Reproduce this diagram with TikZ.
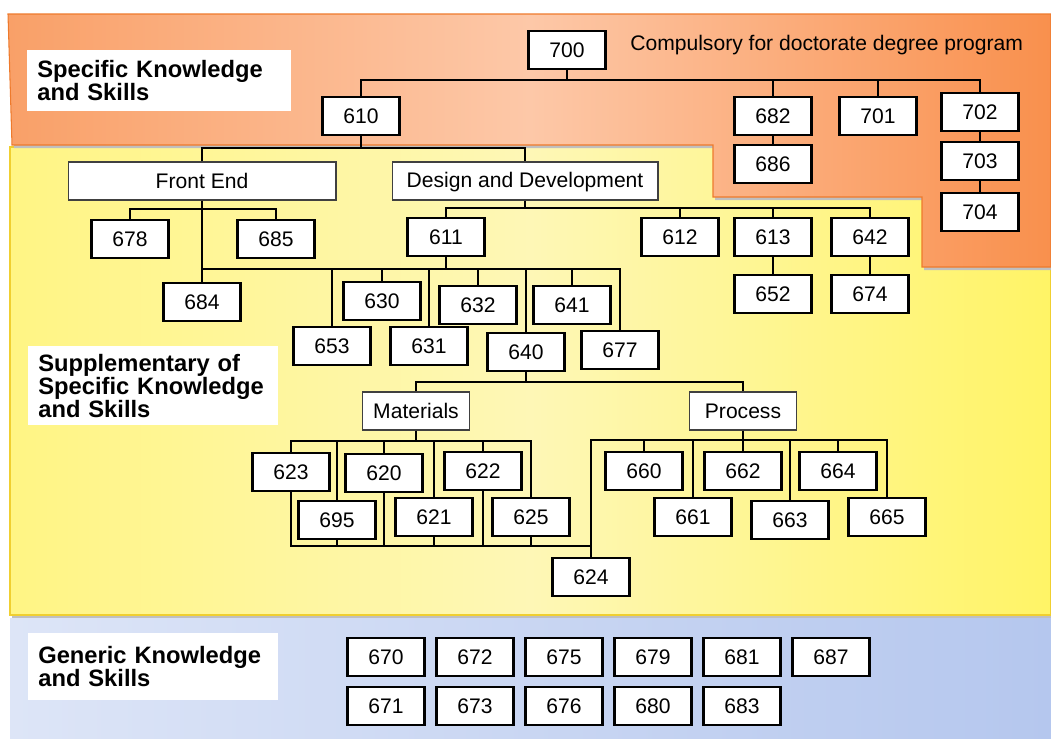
\documentclass[tikz,border=0pt]{standalone}
\usepackage{fontspec}
\setmainfont{Liberation Sans}
\usepackage{tikz}
\usetikzlibrary{positioning,calc}
\definecolor{orL}{HTML}{F9A068}
\definecolor{orM}{HTML}{FDC8A8}
\definecolor{orR}{HTML}{F9904D}
\definecolor{orB}{HTML}{EE7A2C}
\definecolor{yeL}{HTML}{FFF584}
\definecolor{yeM}{HTML}{FEF7B6}
\definecolor{yeR}{HTML}{FFF466}
\definecolor{yeB}{HTML}{F0CF30}
\definecolor{blL}{HTML}{DDE5F7}
\definecolor{blR}{HTML}{B5C7EE}

\begin{document}
\begin{tikzpicture}[x=0.02cm, y=-0.02cm,
    num/.style={draw, line width=1.5pt, fill=white, minimum width=1.54cm, minimum height=0.76cm, inner sep=0pt, font=\fontsize{12}{14}\selectfont},
    grp/.style={draw=black!75, line width=0.6pt, fill=white, minimum height=0.76cm, inner sep=0pt, font=\fontsize{12}{14}\selectfont},
    side/.style={fill=white, anchor=north west, align=left, inner xsep=0.2cm, font=\fontsize{13.5}{13}\selectfont\bfseries},
    conn/.style={line width=1.5pt}]
    \useasboundingbox (0,0) rectangle (1051,738);

    \fill [black!20] (12,620) rectangle (1051,738);
    \shade [left color=blL, right color=blR] (10,618) rectangle (1051,738);
    \fill [black!25] (12,150) rectangle (1051,618);
    \shadedraw [left color=yeL, right color=yeR, middle color=yeM, draw=yeB, line width=0.6pt] (10,147) rectangle (1051,615);
    \fill [black!25] (12,16) -- (1051,16) -- (1051,270) -- (924,270) -- (924,200) -- (715,200) -- (715,148) -- (14,148) -- cycle;
    \shadedraw [left color=orL, right color=orR, middle color=orM, draw=orB, line width=0.6pt] (8,14) -- (1051,14) -- (1051,267) -- (922,267) -- (922,197) -- (713,197) -- (713,145) -- (12,145) -- cycle;

    \node [side, minimum height=1.22cm, text width=4.88cm] (lspec) at (27,50) {Specific Knowledge\\and Skills};
    \node [side, minimum height=1.58cm, text width=4.6cm] (lsupp) at (28,346) {Supplementary of\\Specific Knowledge\\and Skills};
    \node [side, minimum height=1.34cm, text width=4.6cm] (lgen) at (28,633) {Generic Knowledge\\and Skills};

    \node [num] (n700) at (567,50) {700};
    \node [anchor=west, inner sep=0pt, font=\fontsize{12}{14}\selectfont] (ncomp) at (630,45) {Compulsory for doctorate degree program};
    \node [num] (n610) at (361,116) {610};
    \node [num] (n682) at (773,116) {682};
    \node [num] (n686) at (773,164) {686};
    \node [num] (n701) at (878,116) {701};
    \node [num] (n702) at (980,112) {702};
    \node [num] (n703) at (980,161) {703};
    \node [num] (n704) at (980,212) {704};

    \node [grp, minimum width=5.36cm] (nfront) at (202,181) {Front End};
    \node [grp, minimum width=5.32cm, text depth=0.25ex] (ndesign) at (525,181) {Design and Development};

    \node [num] (n678) at (130,239) {678};
    \node [num] (n685) at (276,239) {685};
    \node [num] (n684) at (202,302) {684};
    \node [num] (n611) at (446,237) {611};
    \node [num] (n612) at (680,237) {612};
    \node [num] (n613) at (773,237) {613};
    \node [num] (n642) at (870,237) {642};
    \node [num] (n652) at (773,294) {652};
    \node [num] (n674) at (870,294) {674};

    \node [num] (n630) at (382,301) {630};
    \node [num] (n632) at (478,305) {632};
    \node [num] (n641) at (572,305) {641};
    \node [num] (n653) at (332,346) {653};
    \node [num] (n631) at (429,346) {631};
    \node [num] (n640) at (526,352) {640};
    \node [num] (n677) at (620,350) {677};

    \node [grp, minimum width=2.14cm] (nmat) at (416,411) {Materials};
    \node [grp, minimum width=2.14cm] (nproc) at (743,411) {Process};

    \node [num] (n623) at (291,472) {623};
    \node [num] (n620) at (384,473) {620};
    \node [num] (n622) at (483,471) {622};
    \node [num] (n695) at (337,520) {695};
    \node [num] (n621) at (434,517) {621};
    \node [num] (n625) at (531,517) {625};
    \node [num] (n624) at (591,577) {624};

    \node [num] (n660) at (644,471) {660};
    \node [num] (n662) at (743,471) {662};
    \node [num] (n664) at (838,471) {664};
    \node [num] (n661) at (693,517) {661};
    \node [num] (n663) at (790,520) {663};
    \node [num] (n665) at (887,517) {665};

    \node [num] (n670) at (386,657) {670};
    \node [num] (n672) at (475,657) {672};
    \node [num] (n675) at (564,657) {675};
    \node [num] (n679) at (653,657) {679};
    \node [num] (n681) at (742,657) {681};
    \node [num] (n687) at (831,657) {687};
    \node [num] (n671) at (386,706) {671};
    \node [num] (n673) at (475,706) {673};
    \node [num] (n676) at (564,706) {676};
    \node [num] (n680) at (653,706) {680};
    \node [num] (n683) at (742,706) {683};

    \coordinate (j700) at (567,80);
    \coordinate (j610) at (361,148);
    \coordinate (jfront) at (202,209);
    \coordinate (jlong) at (202,269);
    \coordinate (jdesign) at (525,208);
    \coordinate (j640) at (526,382);
    \coordinate (jmat) at (416,441);
    \coordinate (jlow) at (591,546);
    \coordinate (jproc) at (743,440);

    \draw [conn] (n700) -- (j700);
    \draw [conn] (n610.north) |- (j700) -| (n702.north);
    \draw [conn] (j700 -| n682) -- (n682);
    \draw [conn] (j700 -| n701) -- (n701);
    \draw [conn] (n682) -- (n686);
    \draw [conn] (n702) -- (n703);
    \draw [conn] (n703) -- (n704);

    \draw [conn] (n610) -- (j610);
    \draw [conn] (nfront.north) |- (j610) -| (ndesign.north);

    \draw [conn] (nfront) -- (n684);
    \draw [conn] (n678.north) |- (jfront) -| (n685.north);

    \draw [conn] (jlong) -| (n677.north);
    \draw [conn] (n611) -- (n611 |- jlong);
    \draw [conn] (jlong -| n653) -- (n653);
    \draw [conn] (jlong -| n630) -- (n630);
    \draw [conn] (jlong -| n631) -- (n631);
    \draw [conn] (jlong -| n632) -- (n632);
    \draw [conn] (jlong -| n640) -- (n640);
    \draw [conn] (jlong -| n641) -- (n641);

    \draw [conn] (ndesign) -- (jdesign);
    \draw [conn] (n611.north) |- (jdesign) -| (n642.north);
    \draw [conn] (jdesign -| n612) -- (n612);
    \draw [conn] (jdesign -| n613) -- (n613);
    \draw [conn] (n613) -- (n652);
    \draw [conn] (n642) -- (n674);

    \draw [conn] (n640) -- (j640);
    \draw [conn] (nmat.north) |- (j640) -| (nproc.north);

    \draw [conn] (nmat) -- (jmat);
    \draw [conn] (n623.north) |- (jmat) -| (n625.north);
    \draw [conn] (jmat -| n695) -- (n695);
    \draw [conn] (jmat -| n620) -- (n620);
    \draw [conn] (jmat -| n621) -- (n621);
    \draw [conn] (jmat -| n622) -- (n622);

    \draw [conn] (n623.south) |- (jlow) -- (n624);
    \draw [conn] (n695) -- (n695 |- jlow);
    \draw [conn] (n620) -- (n620 |- jlow);
    \draw [conn] (n621) -- (n621 |- jlow);
    \draw [conn] (n622) -- (n622 |- jlow);
    \draw [conn] (n625) -- (n625 |- jlow);

    \draw [conn] (nproc) -- (jproc);
    \draw [conn] (n624.north) |- (jproc) -| (n665.north);
    \draw [conn] (jproc -| n660) -- (n660);
    \draw [conn] (jproc -| n661) -- (n661);
    \draw [conn] (jproc -| n662) -- (n662);
    \draw [conn] (jproc -| n663) -- (n663);
    \draw [conn] (jproc -| n664) -- (n664);
\end{tikzpicture}
\end{document}
